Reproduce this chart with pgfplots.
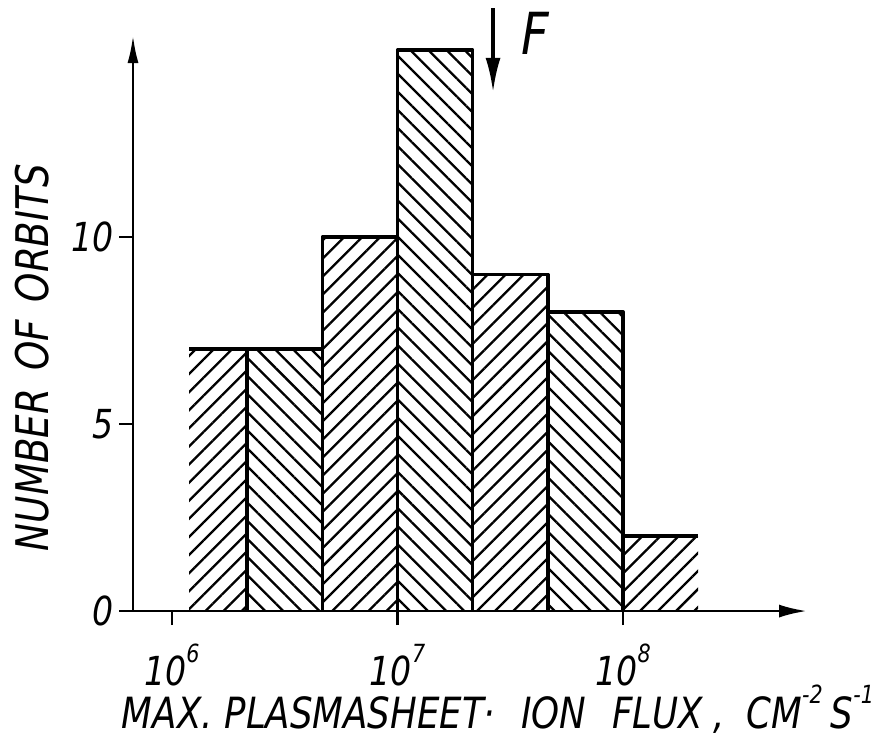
\documentclass[border=0pt]{standalone}
\usepackage{pgfplots}
\pgfplotsset{compat=1.18}
\usepackage{fontspec}
\usetikzlibrary{patterns.meta,arrows.meta}
\newfontfamily\hand{DejaVu Sans Condensed Oblique}[FakeStretch=0.92]
\newcommand{\sz}[1]{\fontsize{#1}{#1}\selectfont}
\newcommand{\sups}[1]{\raisebox{1.05ex}{\sz{12.5bp}#1}}
\pgfplotsset{
  hatchA/.style={draw=none, pattern={Lines[angle=45,distance=6.4bp,line width=1.15bp]}},
  hatchB/.style={draw=none, pattern={Lines[angle=-45,distance=6.4bp,line width=1.15bp]}},
}
\begin{document}
\begin{tikzpicture}
\begin{axis}[
  scale only axis,
  width=343bp, height=288bp,
  xmode=log,
  xmin=594000, xmax=6.546e8,
  ymin=0, ymax=15.4,
  axis x line=bottom, axis y line=left,
  axis y line shift=-6bp,
  axis line style={line width=1.4bp},
  x axis line style={-{Latex[length=14bp,width=6.5bp]}},
  y axis line style={-{Latex[length=14bp,width=5.5bp]}},
  xtick={1e6,1e7,1e8},
  xticklabels={{10\sups{6}},{10\sups{7}},{10\sups{8}}},
  xminorticks=false,
  ytick={0,5,10},
  yticklabels={0,5,10},
  tick align=outside,
  major tick length=7bp,
  tick style={line width=1.4bp,black},
  xticklabel style={font=\hand\sz{20bp}, anchor=north, yshift=-6bp},
  yticklabel style={font=\hand\sz{20bp}, anchor=east, xshift=1bp},
  xlabel={MAX.\hspace{6bp}PLASMASHEET\textperiodcentered\hspace{13bp}ION\hspace{13bp}FLUX\hspace{5bp},\hspace{11bp}CM\sups{-2}\hspace{4bp}S\sups{-1}},
  xlabel style={font=\hand\sz{21.5bp}, anchor=center, at={(axis description cs:0.5495,-0.1700)}},
  ylabel={NUMBER\hspace{9bp}OF\hspace{9bp}ORBITS},
  ylabel style={font=\hand\sz{22.5bp}, anchor=center, rotate=0, at={(axis description cs:-0.1297,0.440)}},
  clip=false,
  unbounded coords=jump,
]
% hatched bars, alternating slant
\addplot[hatchA] coordinates {(1.19e6,0) (1.19e6,7) (2.154e6,7) (2.154e6,0)} -- cycle;
\addplot[hatchB] coordinates {(2.154e6,0) (2.154e6,7) (4.642e6,7) (4.642e6,0)} -- cycle;
\addplot[hatchA] coordinates {(4.642e6,0) (4.642e6,10) (1e7,10) (1e7,0)} -- cycle;
\addplot[hatchB] coordinates {(1e7,0) (1e7,15) (2.154e7,15) (2.154e7,0)} -- cycle;
\addplot[hatchA] coordinates {(2.154e7,0) (2.154e7,9) (4.642e7,9) (4.642e7,0)} -- cycle;
\addplot[hatchB] coordinates {(4.642e7,0) (4.642e7,8) (1e8,8) (1e8,0)} -- cycle;
\addplot[hatchA] coordinates {(1e8,0) (1e8,2) (2.154e8,2) (2.154e8,0)} -- cycle;
% outline: tops
\addplot[black, line width=1.8bp, no marks, line join=round] coordinates {
 (1.19e6,7) (4.642e6,7) (4.642e6,10) (1e7,10) (1e7,15) (2.154e7,15) (2.154e7,9)
 (4.642e7,9) (4.642e7,8) (1e8,8) (1e8,2) (2.154e8,2)};
% outline: bar edges down to the axis
\addplot[black, line width=1.8bp, no marks] coordinates {
 (2.154e6,0) (2.154e6,7) (2.154e6,nan)
 (4.642e6,0) (4.642e6,7) (4.642e6,nan)
 (1e7,0) (1e7,10) (1e7,nan)
 (2.154e7,0) (2.154e7,9) (2.154e7,nan)
 (4.642e7,0) (4.642e7,8) (4.642e7,nan)
 (1e8,0) (1e8,2)};
% F marker
\draw[line width=1.6bp, -{Latex[length=17bp,width=7.5bp]}] (axis cs:2.652e7,16.12) -- (axis cs:2.652e7,13.88);
\node[font=\hand\sz{29bp}, anchor=center] at (axis cs:4.1e7,15.45) {F};
% picture frame
\coordinate (bbTL) at (axis cs:172700,16.337);
\coordinate (bbBR) at (axis cs:1.3935e9,-3.556);
\end{axis}
\pgfresetboundingbox
\path[use as bounding box] (bbTL) rectangle (bbBR);
\end{tikzpicture}
\end{document}
